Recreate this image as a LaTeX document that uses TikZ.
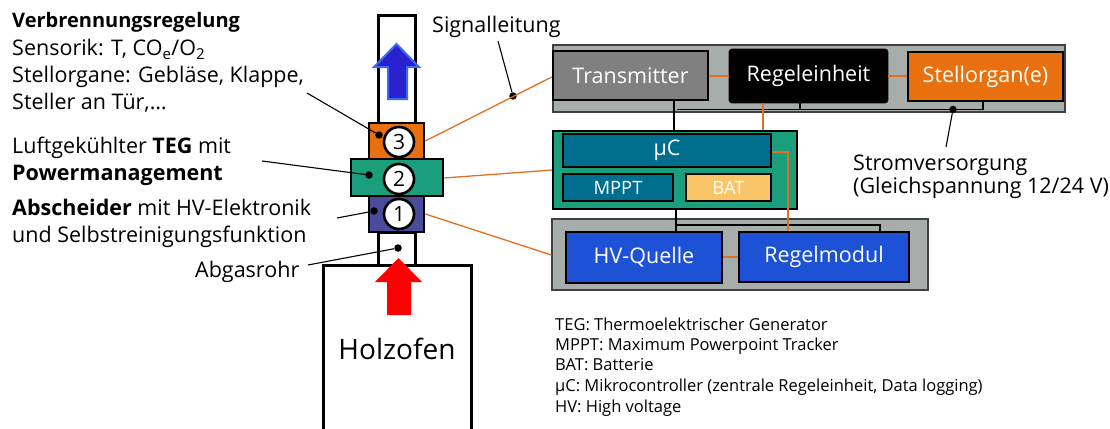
\documentclass[tikz,border=0pt]{standalone}
\usepackage{fontspec}
\setmainfont{Open Sans}
\definecolor{orng}{HTML}{E8700E}
\definecolor{grn}{HTML}{1B9E7C}
\definecolor{purp}{HTML}{4B4B9B}
\definecolor{panelgray}{HTML}{A7ADAB}
\definecolor{trgray}{HTML}{808080}
\definecolor{ucblue}{HTML}{006E8F}
\definecolor{batyel}{HTML}{FAC468}
\definecolor{hvblue}{HTML}{1D52D6}
\definecolor{olink}{HTML}{E07020}
\definecolor{arrblue}{HTML}{2B20CF}
\definecolor{arrblueline}{HTML}{3A6AF0}
\begin{document}
\begin{tikzpicture}[x=1pt,y=-1pt,
  lbl/.style={font=\fontsize{21.5}{27}\selectfont,anchor=base west,inner sep=0pt},
  legend/.style={font=\fontsize{16.5}{20}\selectfont,anchor=base west,inner sep=0pt},
  thick3/.style={line width=3pt},
  cbox/.style={draw=black,line width=2.6pt,text=white,inner sep=0pt,font=\fontsize{21.5}{24}\selectfont},
  panel/.style={draw=black!75,line width=1.2pt,fill=panelgray},
  olk/.style={draw=olink,line width=1.3pt},
  blk/.style={draw=black,line width=1.3pt},
  leader/.style={draw=black,line width=1.1pt},
  ldot/.style={circle,fill=black,inner sep=0pt,minimum size=7.5pt},
  numc/.style={circle,draw=black,line width=2.6pt,fill=white,inner sep=0pt,minimum size=30pt,font=\fontsize{21}{22}\selectfont}
]
\useasboundingbox (0,0) rectangle (1110,428);

% --- chimney / stove ---
\draw[thick3,fill=white] (378,123) -- (378,16) -- (415,16) -- (415,123);
\draw[thick3,fill=white] (378,232) rectangle (415,265);
\draw[thick3] (323,430) -- (323,265) -- (471,265) -- (471,430);
\node[font=\fontsize{28}{32}\selectfont,inner sep=0pt] (ofen) at (397,349) {Holzofen};

% blue arrow
\draw[fill=arrblue,draw=arrblueline,line width=2pt,line join=miter]
  (388,99) -- (407,99) -- (407,67) -- (419,67) -- (396.5,44) -- (374,67) -- (388,67) -- cycle;
% red arrow
\fill[red] (387,315) -- (411,315) -- (411,282) -- (422,282) -- (398.5,258) -- (375,282) -- (387,282) -- cycle;

% stacked modules
\node[draw=black,line width=2.6pt,fill=orng,minimum width=55pt,minimum height=36pt,inner sep=0pt] (m3) at (396.5,141) {};
\node[draw=black,line width=2.6pt,fill=purp,minimum width=55pt,minimum height=36pt,inner sep=0pt] (m1) at (396.5,214) {};
\node[draw=black,line width=2.6pt,fill=grn,minimum width=92pt,minimum height=37pt,inner sep=0pt] (m2) at (397,177.5) {};
\node[numc] (c3) at (399,142) {3};
\node[numc] (c2) at (399,179) {2};
\node[numc] (c1) at (399,214) {1};

\node[ldot] (d3) at (379,135) {};
\node[ldot] (d2) at (369,175) {};
\node[ldot] (d1) at (374,211) {};
\node[ldot] (d0) at (398,248) {};

% --- left labels ---
\node[lbl,font=\fontsize{20}{27}\selectfont] (t1) at (12,28) {\textbf{Verbrennungsregelung}};
\node[lbl] (t2) at (12,56) {Sensorik: T, CO\textsubscript{e}/O\textsubscript{2}};
\node[lbl] (t3) at (12,82) {Stellorgane: Gebläse, Klappe,};
\node[lbl] (t4) at (12,109) {Steller an Tür,…};
\node[lbl] (t5) at (12,153) {Luftgekühlter \textbf{TEG} mit};
\node[lbl] (t6) at (12,180) {\textbf{Powermanagement}};
\node[lbl] (t7) at (12,215) {\textbf{Abscheider} mit HV-Elektronik};
\node[lbl] (t8) at (12,242) {und Selbstreinigungsfunktion};
\node[lbl] (t9) at (195,277) {Abgasrohr};

\coordinate (l3) at (307,93);
\coordinate (l2) at (262,161);
\coordinate (l1) at (337,218);
\coordinate (l0) at (308,265);
\draw[leader] (l3) -- (d3);
\draw[leader] (l2) -- (d2);
\draw[leader] (l1) -- (d1);
\draw[leader] (l0) -- (d0);

% --- top panel ---
\node[panel,minimum width=512pt,minimum height=67pt,inner sep=0pt] (ptop) at (809,78.5) {};
\draw[line width=1.5pt] (677,109.5) -- (983,109.5) -- (983,101);
\draw[line width=1.5pt] (800,102) -- (800,109.5);
\node[cbox,fill=trgray,minimum width=155pt,minimum height=49pt] (tr) at (630.5,75.5) {Transmitter};
\node[cbox,fill=black,rounded corners=2pt,minimum width=157pt,minimum height=52pt] (re) at (808.5,76) {Regeleinheit};
\node[cbox,fill=orng,minimum width=155pt,minimum height=49pt] (so) at (985.5,76.5) {Stellorgan(e)};

\node[lbl] (sig) at (432,33) {Signalleitung};
\node[ldot] (dsig) at (513,96) {};
\coordinate (lsig) at (498,41);
\draw[leader] (lsig) -- (dsig);

\node[ldot] (dstrom) at (953,109.5) {};
\coordinate (lstrom) at (946,147);
\draw[leader] (lstrom) -- (dstrom);
\node[lbl] (st1) at (853,170) {Stromversorgung};
\node[lbl] (st2) at (853,193) {(Gleichspannung 12/24 V)};

% --- µC panel ---
\node[draw=black,line width=2pt,fill=grn,minimum width=244pt,minimum height=78pt,inner sep=0pt] (pu) at (675,170) {};
\node[cbox,fill=ucblue,minimum width=208pt,minimum height=33pt] (uc) at (667,150.5) {µC};
\node[cbox,fill=ucblue,minimum width=110pt,minimum height=27pt,font=\fontsize{18.4}{20}\selectfont] (mppt) at (618,187.5) {MPPT};
\node[cbox,fill=batyel,minimum width=85pt,minimum height=27pt,font=\fontsize{18.4}{20}\selectfont] (bat) at (728.5,187.5) {BAT};

% --- lower panel ---
\node[panel,minimum width=376pt,minimum height=71pt,inner sep=0pt] (pbot) at (740,254.5) {};
\draw[line width=1.5pt] (676,225) -- (880,225) -- (880,232);
\node[cbox,fill=hvblue,minimum width=156pt,minimum height=51pt] (hv) at (644,257.5) {HV-Quelle};
\node[cbox,fill=hvblue,minimum width=170pt,minimum height=50pt] (rm) at (824,257) {Regelmodul};

% --- connectors ---
\draw[olk] (m3.east) -- (tr.west |- 0,77);
\draw[olk] (tr.east |- 0,76) -- (re.west |- 0,76);
\draw[olk] (re.east |- 0,76) -- (so.west |- 0,76);
\draw[olk] (re.south -| 763,0) -- (pu.north -| 763,0);
\draw[olk] (uc.east |- 0,152) -- (788,152) -- (rm.north -| 788,0);
\draw[olk] (m2.east |- 0,178) -- (pu.west |- 0,170);
\draw[olk] (m1.east) -- (pbot.west |- 0,255);
\draw[olk] (hv.east |- 0,257) -- (rm.west |- 0,257);
\draw[blk] (tr.south -| 674,0) -- (pu.north -| 674,0);
\draw[blk] (pu.south -| 676,0) -- (hv.north -| 676,0);

% --- legend ---
\node[legend] (g1) at (555,330) {TEG: Thermoelektrischer Generator};
\node[legend] (g2) at (555,350) {MPPT: Maximum Powerpoint Tracker};
\node[legend] (g3) at (555,370) {BAT: Batterie};
\node[legend] (g4) at (555,391) {µC: Mikrocontroller (zentrale Regeleinheit, Data logging)};
\node[legend] (g5) at (555,412) {HV: High voltage};
\end{tikzpicture}
\end{document}
